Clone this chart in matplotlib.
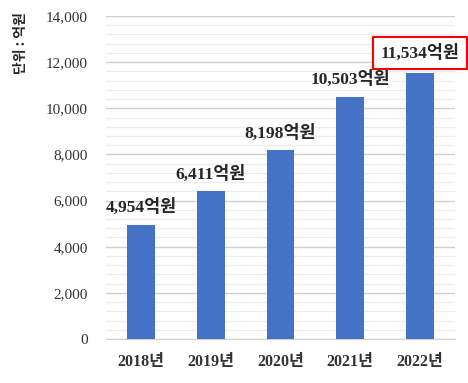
import matplotlib
matplotlib.use("Agg")
import matplotlib.pyplot as plt
from matplotlib.ticker import MultipleLocator, FuncFormatter

years = ["2018년", "2019년", "2020년", "2021년", "2022년"]
values = [4954, 6411, 8198, 10503, 11534]
value_labels = ["4,954억원", "6,411억원", "8,198억원", "10,503억원", "11,534억원"]
unit_label = "단위 : 억원"

fig = plt.figure(figsize=(4.68, 3.83), dpi=100)
ax = fig.add_axes([106/468, 1-339/383, (455-106)/468, (339-16)/383])

x = list(range(len(years)))
ax.bar(x, values, width=0.4, color="#4472C4", zorder=3)

ax.set_xlim(-0.5, 4.5)
ax.set_ylim(0, 14000)
ax.yaxis.set_major_locator(MultipleLocator(2000))
ax.yaxis.set_minor_locator(MultipleLocator(400))
ax.yaxis.set_major_formatter(FuncFormatter(lambda v, p: f"{int(v):,}"))
ax.grid(which="major", axis="y", color="#d0d0d0", linewidth=1.0, zorder=0)
ax.grid(which="minor", axis="y", color="#ececec", linewidth=0.9, zorder=0)
for s in ["top", "right", "left"]:
    ax.spines[s].set_visible(False)
ax.spines["bottom"].set_color("#d0d0d0")
ax.tick_params(axis="both", which="both", length=0)
ax.tick_params(axis="y", pad=13)
ax.tick_params(axis="x", pad=11)

ser = ["Liberation Serif", "Noto Sans CJK KR"]
ax.set_xticks(x)
ax.set_xticklabels(years, fontfamily=ser, fontsize=11.5, fontweight="bold", color="#333333")
for t in ax.get_yticklabels():
    t.set_fontfamily(ser)
    t.set_fontsize(11)
    t.set_color("#333333")

for i, (v, lab) in enumerate(zip(values, value_labels)):
    kw = {}
    off = 17
    if i == len(values) - 1:
        kw["bbox"] = dict(boxstyle="square,pad=0.42", fc="white", ec="#ff0000", lw=1.5)
        off = 20
    ax.annotate(lab, (i, v), xytext=(0, off), textcoords="offset pixels",
                ha="center", va="center", fontfamily=ser, fontsize=12.5,
                fontweight="bold", color="#262626", zorder=5, annotation_clip=False, **kw)

fig.text(21/468, 1-43/383, unit_label, rotation=90, ha="center", va="center",
         fontfamily=["Noto Sans CJK KR"], fontsize=10, fontweight="bold", color="#262626")

fig.savefig("out.png", dpi=100)
